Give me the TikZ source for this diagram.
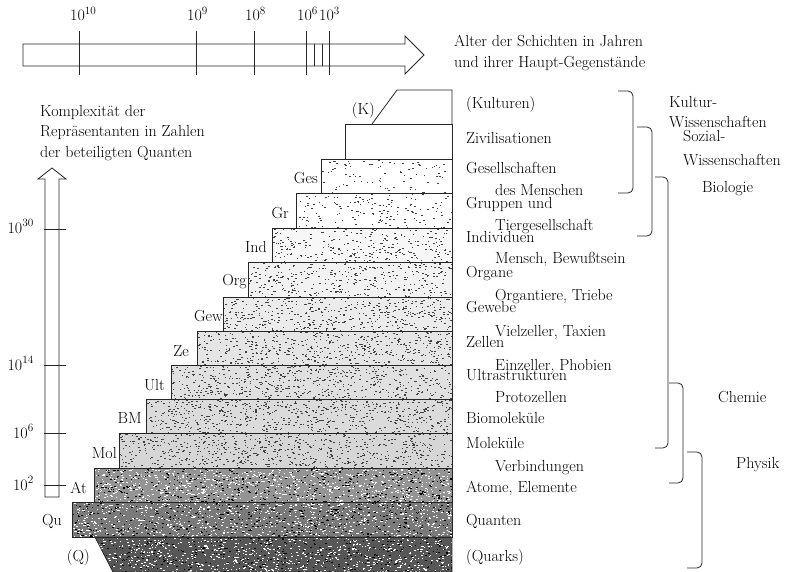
\documentclass[tikz,border=0pt]{standalone}
\usepackage{fontspec}
% random speckle texture inside a band: left, top, bottom, count, colour, seed
\newcommand\speckle[6]{%
  \begin{scope}
    \clip (#1,#2) rectangle (452,#3);
    \pgfmathsetseed{#6}
    \foreach \k in {1,...,#4}{
      \pgfmathsetmacro\px{#1+rnd*(452-#1)}
      \pgfmathsetmacro\py{#2+rnd*(#3-#2)}
      \fill[#5] (\px,\py) rectangle ++(1.5,1);
    }
  \end{scope}}
\begin{document}
\begin{tikzpicture}[x=1pt,y=-1pt,
  txt/.style={font=\fontsize{16}{19}\selectfont, inner sep=0pt},
  lw/.style={txt, anchor=base west},
  le/.style={txt, anchor=base east},
  ln/.style={line width=0.8pt, draw=black!85},
  brace/.style={line width=0.8pt, draw=black!85, rounded corners=5pt},
]
\useasboundingbox (0,0) rectangle (789,572);

% ---- time arrow at the top ----
\draw[ln] (23,44) -- (405,44) -- (405,36) -- (424,55) -- (405,74) -- (405,66) -- (23,66) -- cycle;
\foreach \x in {79,196,254,306,329} \draw[ln] (\x,31) -- (\x,75);
\foreach \x in {314,322} \draw[ln] (\x,44) -- (\x,66);
\node[lw] (t10) at (70,21) {10\textsuperscript{10}};
\node[lw] (t9)  at (187,21) {10\textsuperscript{9}};
\node[lw] (t8)  at (245,21) {10\textsuperscript{8}};
\node[lw] (t6)  at (297,21) {10\textsuperscript{6}};
\node[lw] (t3)  at (319,21) {10\textsuperscript{3}};
\node[lw] (age1) at (454,47) {Alter der Schichten in Jahren};
\node[lw] (age2) at (454,68) {und ihrer Haupt-Gegenstände};

% ---- complexity arrow on the left ----
\node[lw] (c1) at (40,117) {Komplexität der};
\node[lw] (c2) at (40,137) {Repräsentanten in Zahlen};
\node[lw] (c3) at (40,158) {der beteiligten Quanten};
\draw[ln] (45,497) -- (45,179) -- (38,179) -- (52,168) -- (66,179) -- (59,179) -- (59,497) -- cycle;
\foreach \y in {229,365,433,485} \draw[ln] (44,\y) -- (66,\y);
\node[le] (q30) at (34,233) {10\textsuperscript{30}};
\node[le] (q14) at (34,370) {10\textsuperscript{14}};
\node[le] (q6)  at (34,438) {10\textsuperscript{6}};
\node[le] (q2)  at (34,490) {10\textsuperscript{2}};

% ---- layered staircase: fills and textures ----
\foreach \l/\t/\b/\n/\f/\s in {
  321/159/193/90/white/1, 296/193/228/160/white/2, 272/228/262/260/black!3/3,
  248/262/297/360/black!5/4, 223/297/331/450/black!8/5, 197/331/365/520/black!10/6,
  171/365/399/580/black!12/7, 146/399/433/640/black!14/8, 119/433/468/700/black!16/9}{
  \fill[\f] (\l,\t) rectangle (452,\b);
  \speckle{\l}{\t}{\b}{\n}{black!75}{\s}
}
% dark bottom layers
\fill[black!42] (94,468) rectangle (452,502);
\speckle{94}{468}{502}{900}{white}{11}
\speckle{94}{468}{502}{500}{black}{12}
\fill[black!52] (72,502) rectangle (452,537);
\speckle{72}{502}{537}{900}{white}{13}
\speckle{72}{502}{537}{500}{black}{14}
\begin{scope}
  \clip (95,537) -- (452,537) -- (452,572) -- (113,572) -- cycle;
  \fill[black!66] (95,537) rectangle (452,572);
  \speckle{95}{537}{572}{800}{white}{15}
  \speckle{95}{537}{572}{400}{black}{16}
\end{scope}

% ---- outlines ----
\draw[ln] (372,124) -- (397,90) -- (452,90) -- (452,124);
\draw[ln] (345,124) rectangle (452,159);
\foreach \l/\t/\b in {321/159/193, 296/193/228, 272/228/262, 248/262/297,
  223/297/331, 197/331/365, 171/365/399, 146/399/433, 119/433/468,
  94/468/502, 72/502/537}
  \draw[ln] (\l,\t) rectangle (452,\b);
\draw[ln] (95,537) -- (452,537) -- (452,572) -- (113,572) -- cycle;

% ---- short labels left of the steps ----
\node[le] (lK)   at (375,115) {(K)};
\node[le] (lGes) at (318,183) {Ges};
\node[le] (lGr)  at (289,218) {Gr};
\node[le] (lInd) at (267,252) {Ind};
\node[le] (lOrg) at (247,285) {Org};
\node[le] (lGew) at (223,321) {Gew};
\node[le] (lZe)  at (189,356) {Ze};
\node[le] (lUlt) at (165,390) {Ult};
\node[le] (lBM)  at (142,423) {BM};
\node[le] (lMol) at (117,458) {Mol};
\node[le] (lAt)  at (87,493)  {At};
\node[le] (lQu)  at (62,525)  {Qu};
\node[le] (lQ)   at (90,561)  {(Q)};

% ---- layer names ----
\node[lw] (rKul) at (466,109) {(Kulturen)};
\node[lw] (rZiv) at (466,144) {Zivilisationen};
\node[lw] (rGes) at (466,174) {Gesellschaften};
\node[lw] (sGes) at (495,195) {des Menschen};
\node[lw] (rGr)  at (466,208) {Gruppen und};
\node[lw] (sGr)  at (495,230) {Tiergesellschaft};
\node[lw] (rInd) at (466,242) {Individuen};
\node[lw] (sInd) at (495,263) {Mensch, Bewußtsein};
\node[lw] (rOrg) at (466,277) {Organe};
\node[lw] (sOrg) at (495,300) {Organtiere, Triebe};
\node[lw] (rGew) at (466,312) {Gewebe};
\node[lw] (sGew) at (495,336) {Vielzeller, Taxien};
\node[lw] (rZe)  at (466,347) {Zellen};
\node[lw] (sZe)  at (495,370) {Einzeller, Phobien};
\node[lw] (rUlt) at (466,380) {Ultrastrukturen};
\node[lw] (sUlt) at (495,402) {Protozellen};
\node[lw] (rBM)  at (466,423) {Biomoleküle};
\node[lw] (rMol) at (466,448) {Moleküle};
\node[lw] (sMol) at (495,471) {Verbindungen};
\node[lw] (rAt)  at (466,492) {Atome, Elemente};
\node[lw] (rQu)  at (466,525) {Quanten};
\node[lw] (rQ)   at (466,561) {(Quarks)};

% ---- brackets of the sciences ----
\draw[brace] (618,91) -- (633,91) -- (633,193) -- (618,193);
\draw[brace] (637,127) -- (652,127) -- (652,236) -- (637,236);
\draw[brace] (655,177) -- (668,177) -- (668,448) -- (655,448);
\draw[brace] (669,383) -- (683,383) -- (683,483) -- (669,483);
\draw[brace] (687,452) -- (702,452) -- (702,568) -- (687,568);
\node[lw] (bK1) at (669,108) {Kultur-};
\node[lw] (bK2) at (669,128) {Wissenschaften};
\node[lw] (bS1) at (683,142) {Sozial-};
\node[lw] (bS2) at (683,166) {Wissenschaften};
\node[lw] (bB)  at (702,193) {Biologie};
\node[lw] (bC)  at (718,402) {Chemie};
\node[lw] (bP)  at (736,468) {Physik};
\end{tikzpicture}
\end{document}
